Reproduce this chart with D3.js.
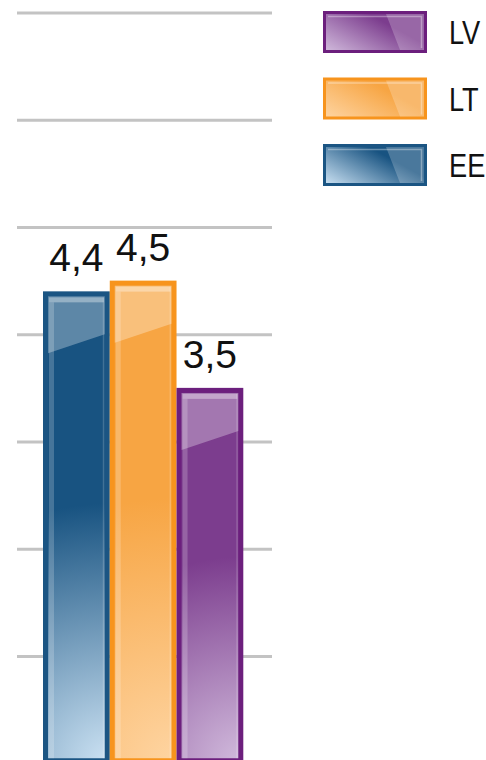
<!DOCTYPE html>
<html>
<head>
<meta charset="utf-8">
<script src="https://cdn.jsdelivr.net/npm/d3@7"></script>
<style>
  html, body { margin: 0; padding: 0; background: #fff; }
  svg { display: block; }
</style>
</head>
<body>
<svg id="chart" width="486" height="760"></svg>
<script>
// ---- data ----
const categories = ["EE", "LT", "LV"];
const values = [4.4, 4.5, 3.5];
const valueLabels = ["4,4", "4,5", "3,5"];
const legendOrder = ["LV", "LT", "EE"];
const gridTicks = [0, 1, 2, 3, 4, 5, 6, 7];

// ---- styles ----
const palette = {
  EE: { border: "#1b5583", dark: "#185381", light: "#cde3f4" },
  LT: { border: "#f7941d", dark: "#f7a543", light: "#fed5a3" },
  LV: { border: "#6c1f7d", dark: "#7c3d8e", light: "#d2bcdd" }
};

const svg = d3.select("#chart");
const defs = svg.append("defs");

const y = d3.scaleLinear().domain([0, 7]).range([763.25, 12.5]);
const x = d3.scaleBand().domain(categories).range([43, 243.3]).padding(0);
const bw = x.bandwidth();

// gradients
categories.forEach((c, i) => {
  const p = palette[c];
  const h = y(0) - y(values[i]);
  const g = defs.append("radialGradient").attr("id", "bar-" + c)
    .attr("gradientUnits", "userSpaceOnUse")
    .attr("cx", x(c) + bw).attr("cy", y(0))
    .attr("fx", x(c) + bw).attr("fy", y(0))
    .attr("r", Math.max(h * 0.55, 200));
  g.append("stop").attr("offset", 0).attr("stop-color", p.light);
  g.append("stop").attr("offset", 1).attr("stop-color", p.dark);

  const lg = defs.append("linearGradient").attr("id", "leg-" + c)
    .attr("x1", 0).attr("y1", 1).attr("x2", 1).attr("y2", 0.3);
  lg.append("stop").attr("offset", 0).attr("stop-color", p.light);
  lg.append("stop").attr("offset", 0.75).attr("stop-color", p.dark);
  lg.append("stop").attr("offset", 1).attr("stop-color", p.dark);
});

// gridlines
const grid = svg.append("g").attr("transform", "translate(272,0)")
  .call(d3.axisLeft(y).tickValues(gridTicks).tickSize(255).tickFormat(""));
grid.select(".domain").remove();
grid.selectAll(".tick line").attr("stroke", "#c3c3c3").attr("stroke-width", 3);

// bars
const bars = svg.append("g").selectAll("g.bar")
  .data(categories.map((c, i) => ({ c, v: values[i], label: valueLabels[i] })))
  .join("g").attr("class", "bar");

bars.append("rect")
  .attr("x", d => x(d.c) + 2.5)
  .attr("y", d => y(d.v) + 2.5)
  .attr("width", bw - 5)
  .attr("height", d => y(0) - y(d.v) - 5)
  .attr("fill", d => `url(#bar-${d.c})`)
  .attr("stroke", d => palette[d.c].border)
  .attr("stroke-width", 5);

// gloss
bars.append("path")
  .attr("d", d => {
    const x0 = x(d.c) + 5, x1 = x(d.c) + bw - 5, t = y(d.v) + 5;
    return `M${x0},${t}L${x1},${t}L${x1},${t + 38}L${x0},${t + 57}Z`;
  })
  .attr("fill", "#fff").attr("fill-opacity", 0.3);

// inner highlight: top strip
bars.append("rect")
  .attr("x", d => x(d.c) + 6)
  .attr("y", d => y(d.v) + 6)
  .attr("width", bw - 12)
  .attr("height", 5)
  .attr("fill", "#fff").attr("fill-opacity", 0.35);
// left strip
bars.append("rect")
  .attr("x", d => x(d.c) + 6)
  .attr("y", d => y(d.v) + 11)
  .attr("width", 5)
  .attr("height", d => y(0) - y(d.v) - 16)
  .attr("fill", "#fff").attr("fill-opacity", 0.2);
// right thin line
bars.append("rect")
  .attr("x", d => x(d.c) + bw - 7)
  .attr("y", d => y(d.v) + 6)
  .attr("width", 1.5)
  .attr("height", d => y(0) - y(d.v) - 11)
  .attr("fill", "#fff").attr("fill-opacity", 0.18);

// value labels
bars.append("text")
  .attr("x", d => x(d.c) + bw / 2)
  .attr("y", d => y(d.v) - 20)
  .attr("text-anchor", "middle")
  .attr("font-family", "'Liberation Sans', Arial, sans-serif")
  .attr("font-size", 39)
  .attr("fill", "#111")
  .text(d => d.label);

// legend
const ly = d3.scaleBand().domain(legendOrder).range([11, 210.5]).padding(0);
const leg = svg.append("g").selectAll("g.leg").data(legendOrder).join("g")
  .attr("class", "leg")
  .attr("transform", d => `translate(323,${ly(d)})`);

leg.append("rect")
  .attr("x", 1.5).attr("y", 1.5).attr("width", 101).attr("height", 39)
  .attr("fill", d => `url(#leg-${d})`)
  .attr("stroke", d => palette[d].border)
  .attr("stroke-width", 3);
leg.append("path")
  .attr("d", "M63,3L101,3L101,39L77,39Z")
  .attr("fill", "#fff").attr("fill-opacity", 0.22);
leg.append("path")
  .attr("d", "M5,5.5L98.5,5.5L98.5,37")
  .attr("fill", "none").attr("stroke", "#fff").attr("stroke-opacity", 0.35).attr("stroke-width", 1.5);

leg.append("text")
  .attr("transform", "translate(126,33) scale(0.8,1)")
  .attr("font-family", "'Liberation Sans', Arial, sans-serif")
  .attr("font-size", 34)
  .attr("fill", "#111")
  .text(d => d);
</script>
</body>
</html>
